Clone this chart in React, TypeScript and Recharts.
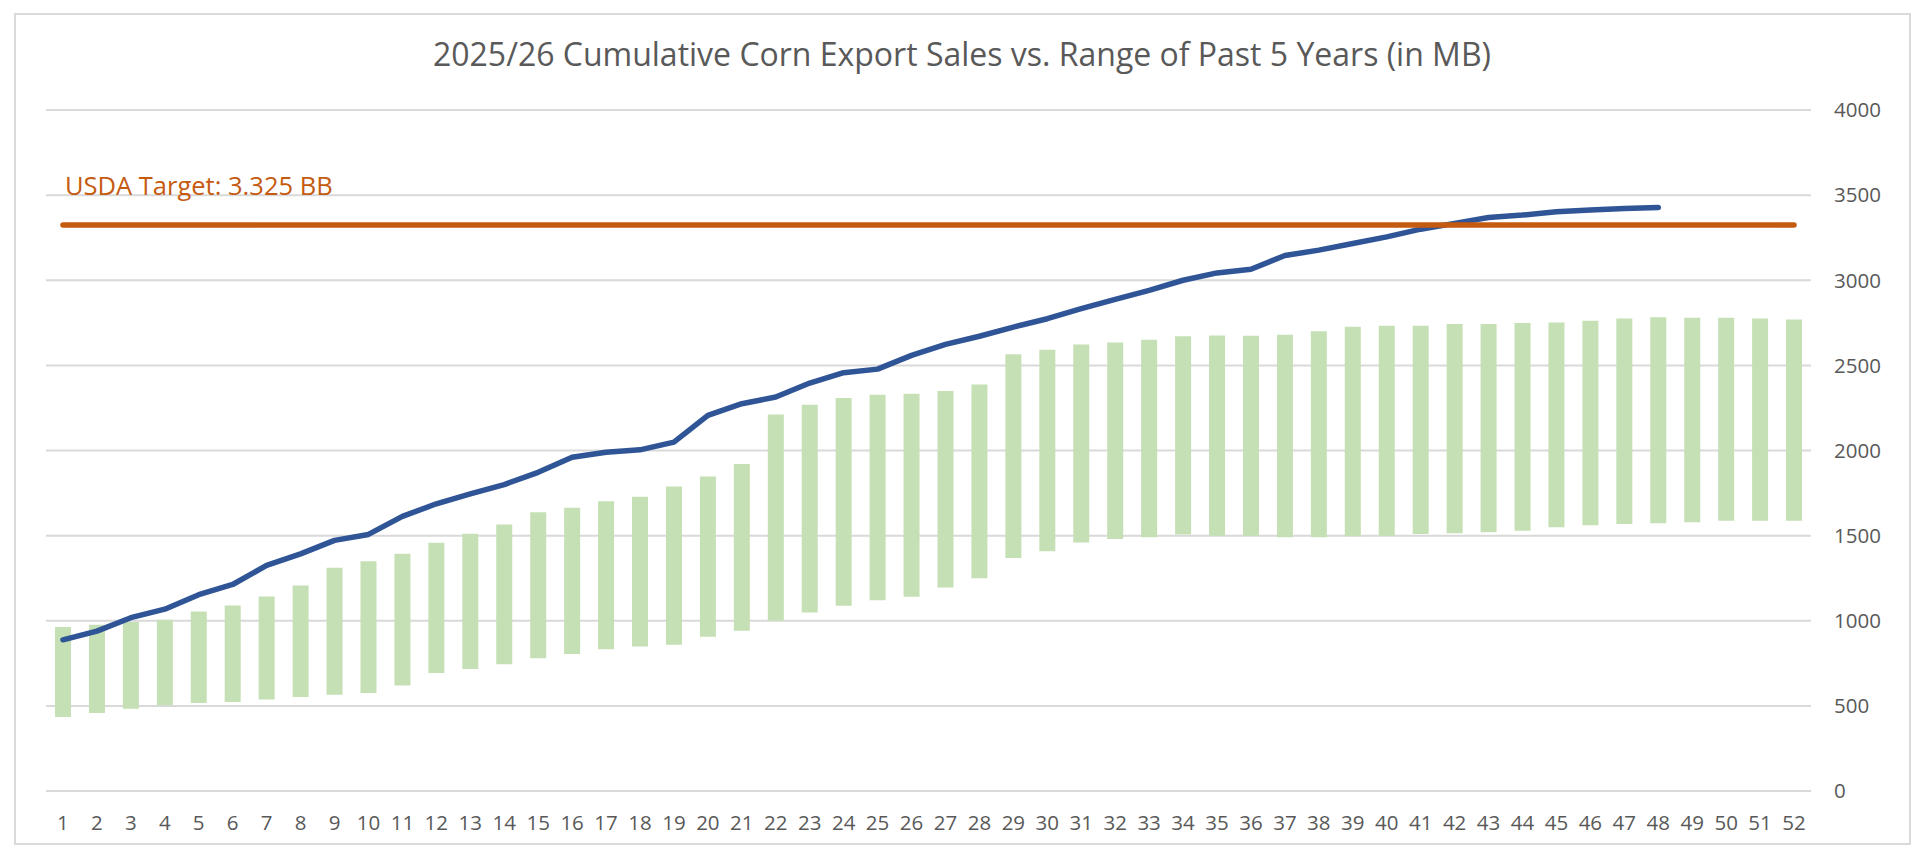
import React from "react";
import {
  ComposedChart,
  Bar,
  Line,
  XAxis,
  YAxis,
  CartesianGrid,
  ReferenceLine,
} from "recharts";

const TITLE = "2025/26 Cumulative Corn Export Sales vs. Range of Past 5 Years (in MB)";
const TARGET_LABEL = "USDA Target: 3.325 BB";
const TARGET_VALUE = 3325;
const TARGET_WEEKS = [1, 52];

const weeks = [
  1, 2, 3, 4, 5, 6, 7, 8, 9, 10, 11, 12, 13, 14, 15, 16, 17, 18, 19, 20, 21, 22, 23, 24, 25, 26,
  27, 28, 29, 30, 31, 32, 33, 34, 35, 36, 37, 38, 39, 40, 41, 42, 43, 44, 45, 46, 47, 48, 49, 50,
  51, 52,
];

// Past 5 years range: high and low
const rangeHigh = [
  963, 977, 992, 1006, 1055, 1090, 1143, 1207, 1311, 1350, 1393, 1458, 1511, 1565, 1637, 1663,
  1702, 1729, 1788, 1847, 1921, 2212, 2269, 2308, 2327, 2333, 2349, 2388, 2565, 2592, 2623, 2635,
  2651, 2671, 2676, 2674, 2680, 2700, 2727, 2733, 2733, 2743, 2743, 2749, 2752, 2762, 2776, 2782,
  2780, 2780, 2776, 2769,
];
const rangeLow = [
  434, 458, 483, 503, 517, 523, 538, 552, 566, 575, 620, 693, 716, 745, 780, 804, 833, 849, 859,
  906, 941, 1000, 1049, 1088, 1121, 1141, 1196, 1249, 1368, 1408, 1459, 1480, 1490, 1506, 1500,
  1500, 1490, 1490, 1496, 1500, 1510, 1514, 1520, 1529, 1549, 1561, 1569, 1573, 1578, 1588, 1588,
  1588,
];
// 2025/26 cumulative sales
const current = [
  888, 939, 1018, 1068, 1153, 1213, 1325, 1393, 1472, 1507, 1613, 1687, 1745, 1800, 1872, 1960,
  1990, 2004, 2049, 2206, 2275, 2314, 2396, 2457, 2478, 2559, 2623, 2671, 2725, 2774, 2833, 2888,
  2941, 3000, 3043, 3065, 3145, 3177, 3216, 3255, 3300, 3334, 3369, 3383, 3402, 3412, 3422, 3428,
  null, null, null, null,
];

const yTicks = [0, 500, 1000, 1500, 2000, 2500, 3000, 3500, 4000];

const data = weeks.map((w, i) => ({
  week: w,
  range: [rangeLow[i], rangeHigh[i]],
  current: current[i],
}));

const FONT = "'Open Sans', 'DejaVu Sans', sans-serif";
const TEXT_GRAY = "#595959";

export default function App() {
  return (
    <div
      style={{
        position: "absolute",
        left: 0,
        top: 0,
        width: 1920,
        height: 860,
        background: "#ffffff",
        overflow: "hidden",
      }}
    >
      <ComposedChart
        width={1920}
        height={860}
        data={data}
        margin={{ top: 110, right: 29, bottom: 29, left: 46 }}
      >
        <CartesianGrid vertical={false} stroke="#D9D9D9" strokeWidth={2} yAxisId="v" />
        <XAxis
          dataKey="week"
          type="category"
          interval={0}
          axisLine={false}
          tickLine={false}
          tickSize={0}
          tickMargin={24}
          height={40}
          tick={{ fill: TEXT_GRAY, fontSize: 20.5, fontFamily: FONT }}
        />
        <YAxis
          yAxisId="v"
          orientation="right"
          domain={[0, 4000]}
          ticks={yTicks}
          width={80}
          axisLine={false}
          tickLine={false}
          tickSize={0}
          tickMargin={23}
          tick={{ fill: TEXT_GRAY, fontSize: 20.5, fontFamily: FONT, textAnchor: "start" }}
        />
        <Bar
          yAxisId="v"
          dataKey="range"
          fill="#C5E0B4"
          barSize={16}
          isAnimationActive={false}
        />
        <Line
          yAxisId="v"
          dataKey="current"
          type="linear"
          stroke="#2F5597"
          strokeWidth={5.5}
          strokeLinecap="round"
          strokeLinejoin="round"
          dot={false}
          activeDot={false}
          connectNulls={false}
          isAnimationActive={false}
        />
        <ReferenceLine
          yAxisId="v"
          segment={[
            { x: TARGET_WEEKS[0], y: TARGET_VALUE },
            { x: TARGET_WEEKS[1], y: TARGET_VALUE },
          ]}
          stroke="#C55A11"
          strokeWidth={5.5}
          strokeLinecap="round"
        />
      </ComposedChart>
      <svg
        width={1920}
        height={860}
        style={{ position: "absolute", left: 0, top: 0, pointerEvents: "none" }}
      >
        <rect x={15} y={14} width={1895} height={830} fill="none" stroke="#D9D9D9" strokeWidth={2} />
        <text
          x={962}
          y={66}
          textAnchor="middle"
          fontFamily={FONT}
          fontSize={33}
          fill={TEXT_GRAY}
          textLength={1058}
          lengthAdjust="spacingAndGlyphs"
        >
          {TITLE}
        </text>
        <text x={65} y={195} fontFamily={FONT} fontSize={25.5} fill="#C55A11">
          {TARGET_LABEL}
        </text>
      </svg>
    </div>
  );
}
